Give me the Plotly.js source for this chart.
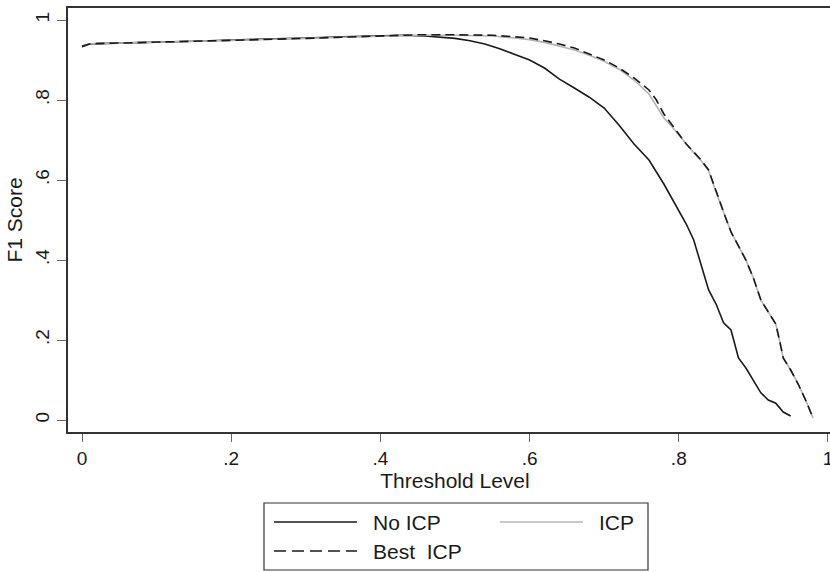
<!DOCTYPE html>
<html>
<head>
<meta charset="utf-8">
<script src="https://cdn.plot.ly/plotly-3.0.1.min.js"></script>
<style>html,body{margin:0;padding:0;background:#fff;overflow:hidden;width:830px;height:572px}</style>
</head>
<body>
<div id="chart" style="width:842px;height:572px"></div>
<script>
// Data
const noIcpX = [0, 0.01, 0.02, 0.05, 0.1, 0.15, 0.2, 0.25, 0.3, 0.35, 0.4, 0.43, 0.46, 0.48, 0.5, 0.52, 0.54, 0.56, 0.58, 0.6, 0.62, 0.64, 0.66, 0.68, 0.7, 0.72, 0.74, 0.76, 0.78, 0.8, 0.81, 0.82, 0.83, 0.84, 0.85, 0.86, 0.87, 0.88, 0.89, 0.9, 0.91, 0.92, 0.93, 0.94, 0.95];
const noIcpY = [0.935, 0.94, 0.941, 0.942, 0.944, 0.947, 0.95, 0.952, 0.955, 0.958, 0.961, 0.962, 0.96, 0.957, 0.954, 0.948, 0.94, 0.928, 0.913, 0.9, 0.88, 0.852, 0.83, 0.807, 0.78, 0.737, 0.69, 0.65, 0.59, 0.525, 0.49, 0.45, 0.39, 0.325, 0.29, 0.243, 0.225, 0.155, 0.13, 0.1, 0.068, 0.05, 0.042, 0.02, 0.01];

const icpX = [0, 0.01, 0.02, 0.05, 0.1, 0.15, 0.2, 0.25, 0.3, 0.35, 0.4, 0.45, 0.5, 0.55, 0.58, 0.6, 0.62, 0.64, 0.66, 0.68, 0.7, 0.72, 0.74, 0.76, 0.77, 0.78, 0.79, 0.8, 0.81, 0.82, 0.83, 0.84, 0.85, 0.86, 0.87, 0.88, 0.89, 0.9, 0.91, 0.92, 0.93, 0.935, 0.94, 0.95, 0.96, 0.97, 0.98];
const icpY = [0.933, 0.94, 0.941, 0.942, 0.944, 0.947, 0.949, 0.951, 0.954, 0.957, 0.96, 0.962, 0.962, 0.96, 0.955, 0.951, 0.944, 0.935, 0.925, 0.912, 0.897, 0.877, 0.85, 0.815, 0.785, 0.755, 0.735, 0.712, 0.688, 0.668, 0.648, 0.623, 0.57, 0.52, 0.47, 0.435, 0.4, 0.355, 0.3, 0.27, 0.24, 0.2, 0.155, 0.125, 0.09, 0.05, 0.005];

const bestIcpX = [0, 0.01, 0.02, 0.05, 0.1, 0.15, 0.2, 0.25, 0.3, 0.35, 0.4, 0.45, 0.5, 0.55, 0.58, 0.6, 0.62, 0.64, 0.66, 0.68, 0.7, 0.72, 0.74, 0.76, 0.77, 0.78, 0.79, 0.8, 0.81, 0.82, 0.83, 0.84, 0.85, 0.86, 0.87, 0.88, 0.89, 0.9, 0.91, 0.92, 0.93, 0.935, 0.94, 0.95, 0.96, 0.97, 0.98];
const bestIcpY = [0.933, 0.94, 0.941, 0.942, 0.944, 0.947, 0.949, 0.951, 0.954, 0.957, 0.96, 0.963, 0.963, 0.962, 0.958, 0.955, 0.948, 0.94, 0.93, 0.915, 0.9, 0.88, 0.855, 0.825, 0.8, 0.765, 0.74, 0.715, 0.69, 0.67, 0.65, 0.625, 0.57, 0.52, 0.47, 0.435, 0.4, 0.355, 0.3, 0.27, 0.24, 0.2, 0.155, 0.125, 0.09, 0.05, 0.005];

const xTickVals = [0, 0.2, 0.4, 0.6, 0.8, 1];
const xTickText = ['0', '.2', '.4', '.6', '.8', '1'];
const yTickVals = [0, 0.2, 0.4, 0.6, 0.8, 1];
const yTickText = ['0', '.2', '.4', '.6', '.8', '1'];

const seriesNames = ['No ICP', 'ICP', 'Best\u00a0 ICP'];

const FONT = 'Liberation Sans, Arial, sans-serif';
const TXT = '#1a1a1a';

const traces = [
  {x: noIcpX, y: noIcpY, name: seriesNames[0], type: 'scatter', mode: 'lines',
   line: {color: '#1a1a1a', width: 1.6}},
  {x: icpX, y: icpY, name: seriesNames[1], type: 'scatter', mode: 'lines',
   line: {color: '#b4b4b4', width: 1.6}},
  {x: bestIcpX, y: bestIcpY, name: seriesNames[2], type: 'scatter', mode: 'lines',
   line: {color: '#1a1a1a', width: 1.6, dash: '9px,5px'}}
];

// legend drawn manually (Stata style box); paper coords are relative to the plot area
// The figure is a bit wider than the 830px window, like the reference whose plot region runs past the right edge.
const W = 842, H = 572;
const ML = 68, MR = 0, MT = 8, MB = 140;
const PW = W - ML - MR, PH = H - MT - MB;
const px = v => (v - ML) / PW;
const py = v => (H - MB - v) / PH;
const shapes = [
  {type: 'rect', xref: 'paper', yref: 'paper', x0: px(264), x1: px(648), y0: py(503), y1: py(570),
   line: {color: '#333', width: 1.2}, fillcolor: 'rgba(0,0,0,0)'},
  {type: 'line', xref: 'paper', yref: 'paper', x0: px(274), x1: px(357), y0: py(522), y1: py(522),
   line: {color: '#1a1a1a', width: 1.6}},
  {type: 'line', xref: 'paper', yref: 'paper', x0: px(500), x1: px(583), y0: py(522), y1: py(522),
   line: {color: '#b4b4b4', width: 1.6}},
  {type: 'line', xref: 'paper', yref: 'paper', x0: px(274), x1: px(357), y0: py(551), y1: py(551),
   line: {color: '#1a1a1a', width: 1.6, dash: '12px,6px'}}
];
const annotations = [
  {xref: 'paper', yref: 'paper', x: px(371), y: py(522), xanchor: 'left', yanchor: 'middle',
   text: seriesNames[0], showarrow: false, font: {family: FONT, size: 21, color: TXT}},
  {xref: 'paper', yref: 'paper', x: px(597), y: py(522), xanchor: 'left', yanchor: 'middle',
   text: seriesNames[1], showarrow: false, font: {family: FONT, size: 21, color: TXT}},
  {xref: 'paper', yref: 'paper', x: px(371), y: py(551), xanchor: 'left', yanchor: 'middle',
   text: seriesNames[2], showarrow: false, font: {family: FONT, size: 21, color: TXT}}
];

const layout = {
  width: W, height: H,
  margin: {l: ML, r: MR, t: MT, b: MB},
  paper_bgcolor: '#fff', plot_bgcolor: '#fff',
  showlegend: false,
  font: {family: FONT, size: 19, color: TXT},
  xaxis: {
    range: [-0.0188, 1.0188], showgrid: false, zeroline: false,
    showline: true, linecolor: '#333', linewidth: 2, mirror: true,
    ticks: 'outside', ticklen: 8, tickwidth: 1, tickcolor: '#666',
    tickvals: xTickVals, ticktext: xTickText, ticklabeloverflow: 'allow',
    tickfont: {family: FONT, size: 19, color: TXT},
    title: {text: 'Threshold Level', font: {family: FONT, size: 21, color: TXT}, standoff: 0}
  },
  yaxis: {
    range: [-0.03, 1.03], showgrid: false, zeroline: false,
    showline: true, linecolor: '#333', linewidth: 2, mirror: false,
    ticks: 'outside', ticklen: 9, tickwidth: 1, tickcolor: '#666',
    tickvals: yTickVals, ticktext: yTickText, tickangle: -90,
    tickfont: {family: FONT, size: 19, color: TXT},
    title: {text: 'F1 Score', font: {family: FONT, size: 21, color: TXT}, standoff: 4}
  },
  shapes: shapes,
  annotations: annotations
};

Plotly.newPlot('chart', traces, layout, {displayModeBar: false, staticPlot: true});
</script>
</body>
</html>
